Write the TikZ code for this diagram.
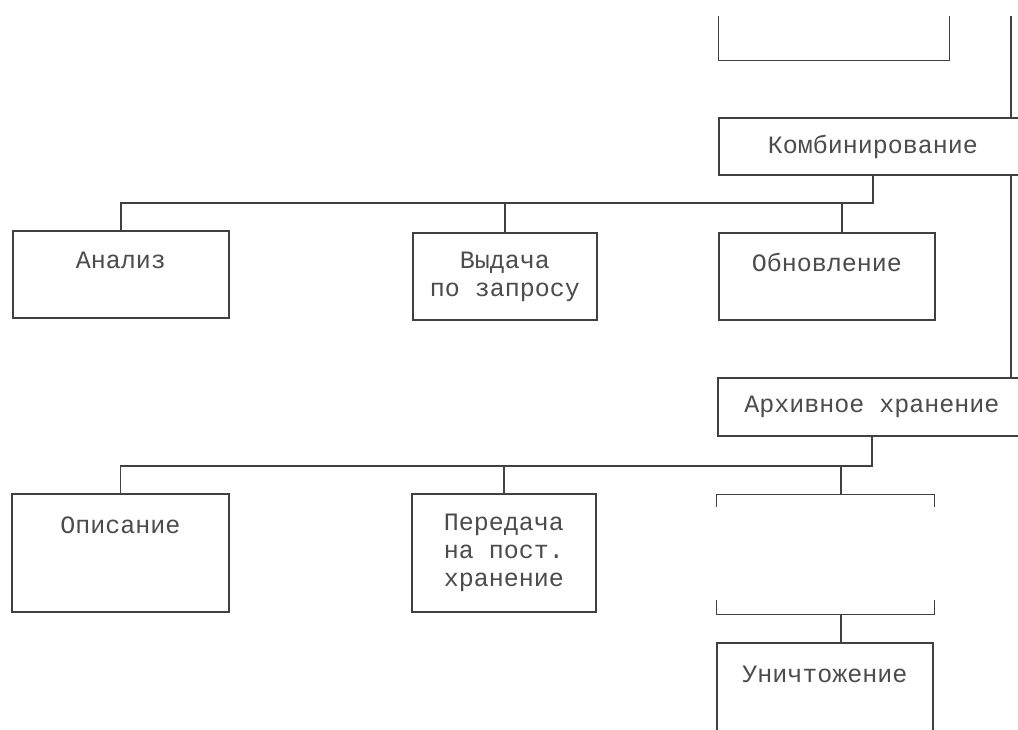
\documentclass[tikz,border=0pt]{standalone}
\usepackage{fontspec}
\newfontfamily\boxfont{Liberation Mono}

\begin{document}
\begin{tikzpicture}
[x=1pt, y=-1pt,
 lineDecorate/.style={line width=1.1pt, draw=black!75, line cap=rect},
 boxDecorate/.style={shape=rectangle, draw=black!75, line width=1.1pt, fill=white, inner sep=0pt, align=center, text=black!70, font=\boxfont\fontsize{25}{28}\selectfont},
 openDecorate/.style={shape=rectangle, inner sep=0pt}]

 \path[fill=white] (0,0) rectangle (1018,729);
 \useasboundingbox (0,0) rectangle (1018,729);

 \node (prev) at (834,38.5) [openDecorate, minimum width=230pt, minimum height=43pt] {};
 \node (komb) at (873,146.5) [boxDecorate, minimum width=308pt, minimum height=57pt] {Комбинирование};
 \node (analiz) at (121,274.5) [boxDecorate, minimum width=216pt, minimum height=87pt] {Анализ\\~};
 \node (vydacha) at (505,276.5) [boxDecorate, minimum width=184pt, minimum height=87pt] {Выдача\\по запросу};
 \node (obnov) at (827,276.5) [boxDecorate, minimum width=216pt, minimum height=87pt] {Обновление\\~};
 \node (arch) at (872,407) [boxDecorate, minimum width=308pt, minimum height=58pt] {Архивное хранение};
 \node (opis) at (120.5,553) [boxDecorate, minimum width=217pt, minimum height=118pt] {Описание\\~\\~};
 \node (pered) at (504,553) [boxDecorate, minimum width=184pt, minimum height=118pt] {Передача\\на пост.\\хранение};
 \node (blank) at (825.5,554.5) [openDecorate, minimum width=217pt, minimum height=119pt] {};
 \node (unich) at (825,688) [boxDecorate, minimum width=216pt, minimum height=90pt] {Уничтожение\\~};

 \coordinate (railtop) at (1011,17);
 \coordinate (busK) at (0,203);
 \coordinate (busA) at (0,466);

 % open boxes
 \draw[lineDecorate] (prev.north west) -- (prev.south west) -- (prev.south east) -- (prev.north east);
 \draw[lineDecorate] ([yshift=-12pt]blank.north west) -- (blank.north west) -- (blank.north east) -- ([yshift=-12pt]blank.north east);
 \draw[lineDecorate] ([yshift=14pt]blank.south west) -- (blank.south west) -- (blank.south east) -- ([yshift=14pt]blank.south east);

\path
 (railtop) edge[lineDecorate] (railtop |- komb.north)
 (railtop |- komb.south) edge[lineDecorate] (railtop |- arch.north)

 (komb.south) edge[lineDecorate] (komb.south |- busK)
 (busK -| analiz.north) edge[lineDecorate] (busK -| komb.south)
 \foreach \n in {analiz,vydacha}
        {
          (busK -| \n.north) edge[lineDecorate] (\n.north)
 }
 ([xshift=15pt]obnov.north |- busK) edge[lineDecorate] ([xshift=15pt]obnov.north)

 (arch.south) edge[lineDecorate] (arch.south |- busA)
 (busA -| opis.north) edge[lineDecorate] (busA -| arch.south)
 \foreach \n in {opis,pered}
        {
          (busA -| \n.north) edge[lineDecorate] (\n.north)
 }
 ([xshift=15.5pt]blank.north |- busA) edge[lineDecorate] ([xshift=15.5pt]blank.north)
 ([xshift=15.5pt]blank.south) edge[lineDecorate] ([xshift=15.5pt]blank.south |- unich.north);
\end{tikzpicture}
\end{document}
